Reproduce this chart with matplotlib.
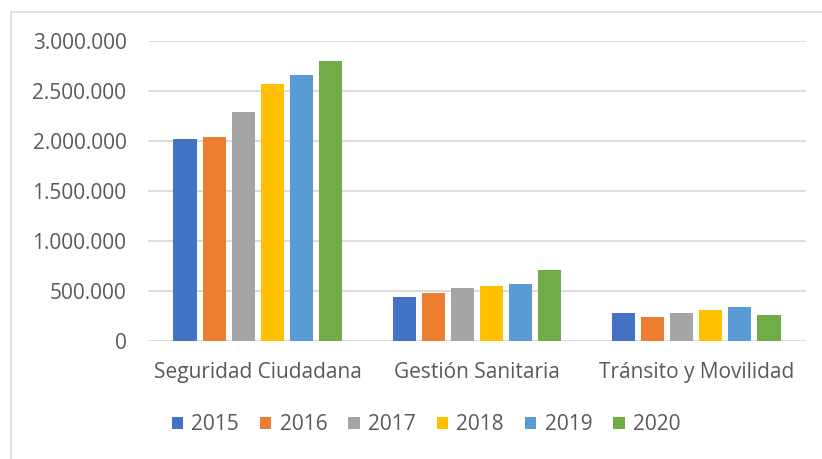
import numpy as np
import matplotlib
matplotlib.use("Agg")
import matplotlib.pyplot as plt
from matplotlib.patches import Rectangle
from matplotlib.ticker import FuncFormatter

# Data
categories = ["Seguridad Ciudadana", "Gestión Sanitaria", "Tránsito y Movilidad"]
years = ["2015", "2016", "2017", "2018", "2019", "2020"]
v2015 = [2025000, 440000, 280000]
v2016 = [2045000, 477000, 237000]
v2017 = [2290000, 530000, 280000]
v2018 = [2570000, 553000, 313000]
v2019 = [2660000, 570000, 343000]
v2020 = [2805000, 713000, 257000]
series = [v2015, v2016, v2017, v2018, v2019, v2020]
colors = ["#4472C4", "#ED7D31", "#A5A5A5", "#FFC000", "#5B9BD5", "#70AD47"]
yticks = [0, 500000, 1000000, 1500000, 2000000, 2500000, 3000000]

plt.rcParams['font.family'] = ['Open Sans', 'DejaVu Sans']
text_col = "#595959"
grid_col = "#D9D9D9"

W, H = 822, 459
fig = plt.figure(figsize=(W / 100, H / 100), dpi=100)

# chart frame (cropped on the right and bottom like the reference)
fig.patches.append(Rectangle((11 / W, -0.1), 2, (H - 12) / H + 0.1,
                             transform=fig.transFigure, fill=False,
                             edgecolor=grid_col, linewidth=1.2))

ax = fig.add_axes([148 / W, (H - 341) / H, (806 - 148) / W, 300 / H])

x = np.arange(len(categories))
step = 0.1325
width = 0.105
for i, vals in enumerate(series):
    ax.bar(x + (i - 2.5) * step, vals, width, color=colors[i], label=years[i],
           zorder=3)

ax.set_xlim(-0.5, 2.5)
ax.set_ylim(0, 3000000)
ax.set_yticks(yticks)
ax.yaxis.set_major_formatter(FuncFormatter(lambda v, p: f"{int(v):,}".replace(",", ".")))
ax.set_xticks(x)
ax.set_xticklabels(categories)
ax.grid(axis="y", color=grid_col, linewidth=1.3, zorder=0)
for s in ax.spines.values():
    s.set_visible(False)
ax.tick_params(axis="both", length=0, labelsize=15, labelcolor=text_col)
ax.tick_params(axis="y", pad=15.5)
ax.tick_params(axis="x", pad=15)

fig.legend(loc="center", bbox_to_anchor=(426 / W, 1 - 425 / H), ncol=6,
           frameon=False, fontsize=15, labelcolor=text_col,
           handlelength=0.55, handleheight=0.55, handletextpad=0.4,
           columnspacing=1.0)

fig.savefig("out.png", dpi=100)
